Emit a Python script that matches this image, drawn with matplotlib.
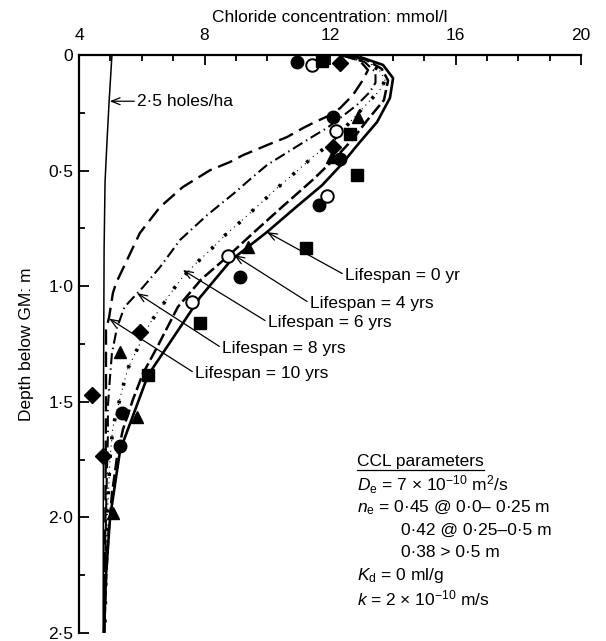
import matplotlib
matplotlib.use("Agg")
import matplotlib.pyplot as plt
from matplotlib.ticker import MultipleLocator, FuncFormatter
from matplotlib.lines import Line2D

# fonts: Arial look-alike, math in the same face
plt.rcParams['font.family'] = ['Liberation Sans', 'DejaVu Sans']
plt.rcParams['mathtext.fontset'] = 'custom'
plt.rcParams['mathtext.rm'] = 'Liberation Sans'
plt.rcParams['mathtext.it'] = 'Liberation Sans:italic'
plt.rcParams['lines.scale_dashes'] = False

FS = 12.5

# model curves (concentration mmol/l vs depth m)
holes_depth = [0, 0.2, 0.38, 0.55, 0.84, 1.5, 2.5]
holes_conc = [5.05, 4.96, 4.89, 4.83, 4.8, 4.78, 4.77]

yr0_depth = [0, 0.013, 0.043, 0.10, 0.186, 0.29, 0.377, 0.476, 0.563, 0.66, 0.766, 0.887, 1.048,
             1.16, 1.385, 1.593, 1.71, 1.8, 2.0, 2.25, 2.5]
yr0_conc = [12.35, 13.05, 13.69, 14.01, 13.91, 13.5, 12.95, 12.35, 11.75, 10.9, 9.99, 8.85, 7.86,
            7.31, 6.2, 5.63, 5.31, 5.21, 4.99, 4.86, 4.8]

yr4_depth = [0, 0.02, 0.06, 0.11, 0.195, 0.28, 0.368, 0.455, 0.54, 0.66, 0.77, 0.87, 0.97,
             1.09, 1.264, 1.377, 1.49, 1.62, 1.74, 1.9, 2.05, 2.3, 2.5]
yr4_conc = [12.35, 13.15, 13.65, 13.85, 13.72, 13.2, 12.7, 12.1, 11.45, 10.45, 9.55, 8.75, 7.9,
            7.15, 6.49, 6.04, 5.72, 5.4, 5.21, 5.05, 4.95, 4.85, 4.8]

yr6_depth = [0, 0.03, 0.07, 0.108, 0.139, 0.165, 0.229, 0.29, 0.39, 0.44, 0.498, 0.576, 0.636,
             0.723, 0.78, 0.844, 0.905, 0.965, 1.004, 1.16, 1.355, 1.45, 1.61, 1.74, 2.0, 2.5]
yr6_conc = [12.35, 13.2, 13.6, 13.75, 13.66, 13.5, 13.05, 12.64, 11.95, 11.46, 10.98, 10.31, 9.83,
            9.13, 8.65, 8.18, 7.7, 7.28, 7.06, 6.26, 5.56, 5.37, 5.08, 4.99, 4.9, 4.82]

yr8_depth = [0, 0.03, 0.074, 0.12, 0.16, 0.216, 0.25, 0.316, 0.36, 0.433, 0.476, 0.532, 0.597,
             0.693, 0.80, 0.918, 1.004, 1.09, 1.18, 1.29, 1.39, 1.52, 1.65, 1.8, 2.2, 2.5]
yr8_conc = [12.35, 13.1, 13.45, 13.45, 13.27, 12.86, 12.54, 11.9, 11.36, 10.5, 9.99, 9.5, 8.95,
            8.08, 7.22, 6.58, 6.04, 5.45, 5.21, 5.05, 4.99, 4.92, 4.92, 4.89, 4.83, 4.8]

yr10_depth = [0, 0.025, 0.065, 0.108, 0.173, 0.23, 0.26, 0.294, 0.316, 0.355, 0.39, 0.433, 0.463,
              0.498, 0.571, 0.658, 0.77, 0.887, 0.987, 1.03, 1.134, 1.19, 1.5, 2.0, 2.5]
yr10_conc = [12.35, 12.95, 13.21, 13.05, 12.73, 12.32, 12.0, 11.46, 11.14, 10.63, 9.99, 9.23, 8.81,
             8.18, 7.31, 6.58, 5.94, 5.53, 5.18, 5.08, 4.96, 4.86, 4.86, 4.84, 4.8]

# measured points
circle_conc = [10.95, 12.1, 12.32, 11.65, 9.13, 5.37, 5.31]
circle_depth = [0.03, 0.27, 0.45, 0.65, 0.96, 1.55, 1.69]
open_conc = [11.43, 12.19, 11.9, 8.75, 7.6]
open_depth = [0.043, 0.33, 0.61, 0.87, 1.07]
square_conc = [11.75, 12.64, 12.86, 11.24, 7.86, 6.2]
square_depth = [0.026, 0.34, 0.52, 0.835, 1.16, 1.385]
diamond_conc = [12.32, 12.1, 5.94, 4.41, 4.77]
diamond_depth = [0.035, 0.40, 1.20, 1.47, 1.735]
triangle_conc = [12.9, 12.06, 9.39, 5.31, 5.85, 5.08]
triangle_depth = [0.27, 0.44, 0.83, 1.285, 1.565, 1.98]

# curve labels
life_labels = ['Lifespan = 0 yr', 'Lifespan = 4 yrs', 'Lifespan = 6 yrs',
               'Lifespan = 8 yrs', 'Lifespan = 10 yrs']
life_tip_conc = [9.99, 8.95, 7.31, 5.85, 4.96]
life_tip_depth = [0.766, 0.866, 0.93, 1.03, 1.14]
life_text_conc = [12.48, 11.36, 10.02, 8.56, 7.7]
life_text_depth = [0.952, 1.074, 1.156, 1.268, 1.377]

x_ticks = [4, 8, 12, 16, 20]
y_ticks = [0, 0.5, 1.0, 1.5, 2.0, 2.5]

ccl_lines = [r'$D_\mathrm{e}$ = 7 $\times$ 10$^{-10}$ m$^2$/s',
             r'$n_\mathrm{e}$ = 0·45 @ 0·0– 0·25 m',
             '0·42 @ 0·25–0·5 m',
             '0·38 > 0·5 m',
             r'$K_\mathrm{d}$ = 0 ml/g',
             r'$k$ = 2 $\times$ 10$^{-10}$ m/s']
ccl_indent = [False, False, True, True, False, False]


fig = plt.figure(figsize=(6.06, 6.41), dpi=100)
ax = fig.add_axes([79 / 606, 8 / 641, 502 / 606, 578 / 641])

ax.plot(holes_conc, holes_depth, color='black', lw=1.1, zorder=2)
ax.plot(yr0_conc, yr0_depth, color='black', lw=1.9, zorder=2)
ax.plot(yr4_conc, yr4_depth, color='black', lw=1.8, ls=(0, (9, 3)), zorder=2)
# 6 yrs: large square dots with fine dots between
ax.plot(yr6_conc, yr6_depth, color='black', lw=0.8, ls=(0, (0.8, 3)), zorder=2)
ax.plot(yr6_conc, yr6_depth, color='black', lw=2.6, ls=(0, (2.2, 11)),
        dash_capstyle='butt', zorder=2)
ax.plot(yr8_conc, yr8_depth, color='black', lw=1.5, ls=(0, (8, 3, 1, 3)), zorder=2)
ax.plot(yr10_conc, yr10_depth, color='black', lw=1.7, ls=(0, (11, 5)), zorder=2)

mk = dict(ls='none', color='black', zorder=4, clip_on=False)
ax.plot(circle_conc, circle_depth, marker='o', ms=9, **mk)
ax.plot(open_conc, open_depth, marker='o', ms=9, mfc='white', mew=1.4, **mk)
ax.plot(square_conc, square_depth, marker='s', ms=8, **mk)
ax.plot(diamond_conc, diamond_depth, marker='D', ms=8, **mk)
ax.plot(triangle_conc, triangle_depth, marker='^', ms=9, **mk)

arrow = dict(arrowstyle='->,head_length=0.5,head_width=0.2', lw=0.9, color='black',
             shrinkA=0, shrinkB=0, relpos=(0, 0.5))
for lab, tx, ty, px, py in zip(life_labels, life_text_conc, life_text_depth,
                               life_tip_conc, life_tip_depth):
    ax.annotate(lab, xy=(px, py), xytext=(tx, ty), ha='left', va='center',
                fontsize=FS, arrowprops=arrow, zorder=5)
ax.annotate('2·5 holes/ha', xy=(4.98, 0.2), xytext=(5.85, 0.2), ha='left', va='center',
            fontsize=FS, arrowprops=arrow)

# CCL parameter block
head = ax.text(0.554, 0.296, 'CCL parameters', transform=ax.transAxes, ha='left',
               va='center', fontsize=FS)
for k, (line, ind) in enumerate(zip(ccl_lines, ccl_indent)):
    ax.text(0.641 if ind else 0.554, 0.296 - 0.0393 * (k + 1), line, transform=ax.transAxes,
            ha='left', va='center', fontsize=FS)

ax.set_xlim(4, 20)
ax.set_ylim(2.5, 0)
ax.xaxis.tick_top()
ax.xaxis.set_label_position('top')
ax.set_xticks(x_ticks)
ax.xaxis.set_minor_locator(MultipleLocator(1))
ax.set_yticks(y_ticks)
ax.yaxis.set_minor_locator(MultipleLocator(0.25))
ax.yaxis.set_major_formatter(FuncFormatter(
    lambda v, p: '0' if v == 0 else f'{v:.1f}'.replace('.', '·')))
ax.tick_params(which='both', direction='in', width=1.3, labelsize=FS, top=True,
               bottom=False, right=False, labeltop=True, labelbottom=False)
ax.tick_params(which='major', length=7)
ax.tick_params(which='minor', length=4)
ax.tick_params(axis='x', which='major', pad=9)
ax.tick_params(axis='y', which='major', pad=4)
for s in ['bottom', 'right']:
    ax.spines[s].set_visible(False)
for s in ['top', 'left']:
    ax.spines[s].set_linewidth(1.6)
ax.set_xlabel('Chloride concentration: mmol/l', fontsize=FS, labelpad=4)
ax.set_ylabel('Depth below GM: m', fontsize=FS, labelpad=10)

# underline the block heading
fig.canvas.draw()
bb = head.get_window_extent()
fig.add_artist(Line2D([bb.x0, bb.x1], [bb.y0 - 1, bb.y0 - 1], transform=None,
                      color='black', lw=0.9))

fig.savefig('out.png', dpi=100)
